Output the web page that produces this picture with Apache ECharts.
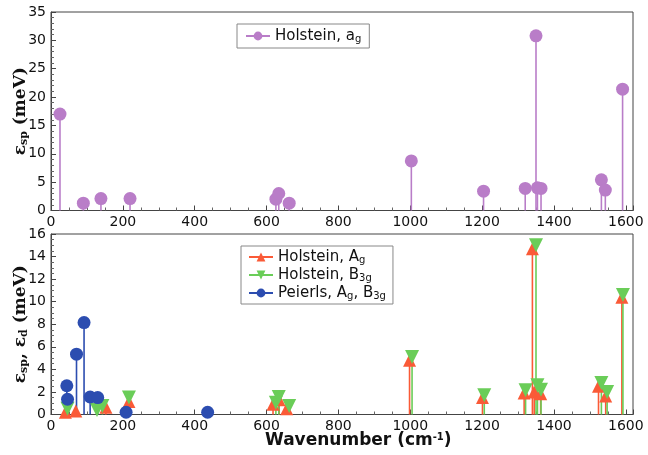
<!DOCTYPE html>
<html><head><meta charset="utf-8">
<script src="https://cdn.jsdelivr.net/npm/echarts@6/dist/echarts.min.js"></script>
<style>html,body{margin:0;padding:0;background:#fff}#c{width:648px;height:455px}</style>
</head><body><div id="c"></div>
<script>
// Top panel: Holstein a_g
const topX = [25, 90, 139, 220, 626, 634, 663, 1003, 1204, 1320, 1350, 1354, 1364, 1532, 1543, 1591];
const topY = [17.0, 1.3, 2.1, 2.1, 2.0, 3.0, 1.3, 8.75, 3.4, 3.9, 30.8, 4.0, 3.9, 5.4, 3.6, 21.4];
// Bottom panel
const holAgX = [40, 69, 153, 217, 618, 635, 656, 998, 1201, 1317, 1340, 1345, 1363, 1524, 1544, 1589];
const holAgY = [0.2, 0.3, 0.65, 1.15, 0.9, 1.3, 0.5, 4.8, 1.5, 1.9, 14.7, 2.0, 1.85, 2.5, 1.65, 10.4];
const holB3gX = [46, 128, 143, 217, 626, 634, 663, 1005, 1206, 1321, 1350, 1354, 1364, 1532, 1548, 1592];
const holB3gY = [0.5, 0.4, 0.75, 1.5, 1.05, 1.55, 0.75, 5.1, 1.7, 2.15, 15.0, 2.6, 2.2, 2.8, 2.0, 10.6];
const peiX = [44, 46, 71, 92, 109, 130, 209, 436];
const peiY = [2.55, 1.35, 5.35, 8.15, 1.55, 1.5, 0.2, 0.2];

const C_PUR = '#b97dc8', C_RED = '#fa5a37', C_GRN = '#6acd58', C_BLU = '#2c4db0';
const FONT = 'DejaVu Sans';
const pairs = (xs, ys) => xs.map((x, i) => [x, ys[i]]);

function stem(name, xs, ys, color, gi) {
  return {
    type: 'custom', name: name + '_stem', xAxisIndex: gi, yAxisIndex: gi,
    data: pairs(xs, ys), encode: {x: 0, y: 1}, silent: true,
    renderItem: function (params, api) {
      const x = api.value(0), y = api.value(1);
      const p0 = api.coord([x, 0]), p1 = api.coord([x, y]);
      return {type: 'line', shape: {x1: p0[0], y1: p0[1], x2: p1[0], y2: p1[1]},
        style: {stroke: color, lineWidth: 1.6}};
    }
  };
}
function marks(name, xs, ys, color, gi, symbol, size) {
  return {
    type: 'line', name: name, xAxisIndex: gi, yAxisIndex: gi,
    data: pairs(xs, ys), symbol: symbol, symbolSize: size, showAllSymbol: true,
    lineStyle: {width: 0, opacity: 0}, itemStyle: {color: color, opacity: 1},
    emphasis: {disabled: true}, silent: true, z: 3
  };
}
const DOWN = 'path://M0,0L10,0L5,9Z';

const xAxisBase = (gi) => ({
  type: 'value', gridIndex: gi, min: 0, max: 1620, interval: 200,
  axisLine: {show: true, lineStyle: {color: '#444', width: 1}},
  axisTick: {show: true, inside: true, length: 5, lineStyle: {color: '#444'}},
  minorTick: {show: true, splitNumber: 4, length: 3, lineStyle: {color: '#666'}},
  splitLine: {show: false},
  axisLabel: {showMaxLabel: false, color: '#111', fontFamily: FONT, fontSize: 14, margin: 5,
    formatter: (v) => String(v)}
});
const yAxisBase = (gi, max, interval, minorSplit, nameRich) => ({
  type: 'value', gridIndex: gi, min: 0, max: max, interval: interval,
  axisLine: {show: true, lineStyle: {color: '#444', width: 1}},
  axisTick: {show: true, inside: true, length: 5, lineStyle: {color: '#444'}},
  minorTick: {show: true, splitNumber: minorSplit, length: 3, lineStyle: {color: '#666'}},
  splitLine: {show: false},
  axisLabel: {color: '#111', fontFamily: FONT, fontSize: 14, margin: 5, formatter: (v) => String(v)},
  name: nameRich, nameLocation: 'middle', nameRotate: 90, nameGap: 21, nameMoveOverlap: false,
  nameTextStyle: {
    color: '#111', fontFamily: 'DejaVu Serif', fontWeight: 'bold', fontSize: 17,
    rich: {
      e: {fontFamily: 'DejaVu Serif', fontWeight: 'bold', fontSize: 17, color: '#111'},
      s: {fontFamily: 'DejaVu Serif', fontWeight: 'bold', fontSize: 11, color: '#111', padding: [7, 0, 0, 0]}
    }
  }
});

const legRich = {
  t: {fontFamily: FONT, fontSize: 15, color: '#111', lineHeight: 19},
  s: {fontFamily: FONT, fontSize: 10, color: '#111', padding: [6, 0, 0, 0], lineHeight: 19}
};

const chart = echarts.init(document.getElementById('c'), null, {renderer: 'canvas'});
chart.setOption({
  animation: false,
  backgroundColor: '#fff',
  grid: [
    {left: 51, top: 12, right: 15, height: 198.5, show: true, borderColor: '#444', borderWidth: 1,
      containLabel: false, outerBoundsMode: 'none'},
    {left: 51, top: 234, right: 15, height: 180.5, show: true, borderColor: '#444', borderWidth: 1,
      containLabel: false, outerBoundsMode: 'none'}
  ],
  xAxis: [xAxisBase(0), xAxisBase(1)],
  yAxis: [
    yAxisBase(0, 35, 5, 5, '{e|ε}{s|sp}{e| (meV)}'),
    yAxisBase(1, 16, 2, 4, '{e|ε}{s|sp}{e|, ε}{s|d}{e| (meV)}')
  ],
  legend: [
    {
      left: 237, top: 24, orient: 'vertical', padding: [4, 8, 4, 8],
      borderColor: '#888', borderWidth: 1, itemWidth: 24, itemHeight: 11,
      data: [{name: 'Holstein, a_g', lineStyle: {width: 2, color: C_PUR, opacity: 1}}],
      formatter: () => '{t|Holstein, a}{s|g}',
      textStyle: {rich: legRich}
    },
    {
      left: 241, top: 246, orient: 'vertical', padding: [3, 7, 3, 7], itemGap: 2,
      borderColor: '#888', borderWidth: 1, itemWidth: 24, itemHeight: 11,
      data: [
        {name: 'Holstein, A_g', lineStyle: {width: 2, color: C_RED, opacity: 1}},
        {name: 'Holstein, B_3g', lineStyle: {width: 2, color: C_GRN, opacity: 1}},
        {name: 'Peierls, A_g, B_3g', lineStyle: {width: 2, color: C_BLU, opacity: 1}}
      ],
      formatter: function (n) {
        if (n === 'Holstein, A_g') return '{t|Holstein, A}{s|g}';
        if (n === 'Holstein, B_3g') return '{t|Holstein, B}{s|3g}';
        return '{t|Peierls, A}{s|g}{t|, B}{s|3g}';
      },
      textStyle: {rich: legRich}
    }
  ],
  graphic: [{
    type: 'text', left: 265, top: 432,
    style: {
      text: '{b|Wavenumber (cm}{p|-1}{b|)}',
      rich: {
        b: {fontFamily: FONT, fontWeight: 'bold', fontSize: 17, fill: '#111'},
        p: {fontFamily: FONT, fontWeight: 'bold', fontSize: 10, fill: '#111', padding: [0, 0, 8, 0]}
      }
    }
  }],
  series: [
    stem('Holstein, a_g', topX, topY, C_PUR, 0),
    marks('Holstein, a_g', topX, topY, C_PUR, 0, 'circle', 13),
    stem('Holstein, A_g', holAgX, holAgY, C_RED, 1),
    stem('Holstein, B_3g', holB3gX, holB3gY, C_GRN, 1),
    marks('Holstein, A_g', holAgX, holAgY, C_RED, 1, 'triangle', 13),
    marks('Holstein, B_3g', holB3gX, holB3gY, C_GRN, 1, DOWN, 14),
    stem('Peierls, A_g, B_3g', peiX, peiY, C_BLU, 1),
    marks('Peierls, A_g, B_3g', peiX, peiY, C_BLU, 1, 'circle', 13)
  ]
});
</script></body></html>
